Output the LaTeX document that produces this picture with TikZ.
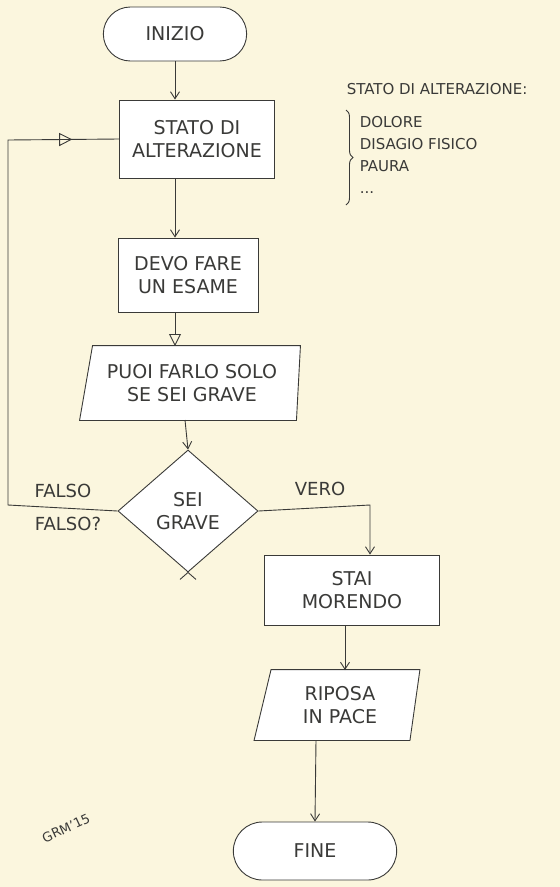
\documentclass[tikz,border=0pt]{standalone}
\usepackage{fontspec}
\setmainfont{DejaVu Sans}
\usetikzlibrary{shapes.geometric,shapes.misc,arrows.meta,decorations.pathreplacing,decorations.markings,calc}
\definecolor{paper}{HTML}{FBF6DE}
\definecolor{pencil}{HTML}{3A3A38}
\begin{document}
\begin{tikzpicture}[x=1pt,y=-1pt,
  line width=0.9pt, draw=pencil, text=pencil,
  every node/.style={font=\fontsize{19}{23}\selectfont, align=center, text=pencil},
  term/.style={draw, fill=white, rounded rectangle, minimum width=150pt, minimum height=54pt},
  proc/.style={draw, fill=white, rectangle, inner sep=2pt},
  iobox/.style={rectangle, inner sep=2pt},
  cond/.style={draw, fill=white, diamond, minimum width=140pt, minimum height=122pt, inner sep=0pt},
  flow/.style={-{Straight Barb[length=7pt,width=9pt]}},
  lbl/.style={font=\fontsize{18}{20}\selectfont},
  note/.style={font=\fontsize{15}{22}\selectfont, align=left, anchor=west}
]
\fill[paper] (0,0) rectangle (560,887);
\useasboundingbox (0,0) rectangle (560,887);

\node[term] (start) at (175,34) {INIZIO};
\node[proc, minimum width=155pt, minimum height=78pt] (stato) at (197,139) {STATO DI\\ALTERAZIONE};
\node[proc, minimum width=140pt, minimum height=74pt] (esame) at (188,275) {DEVO FARE\\UN ESAME};

% parallelogram: PUOI FARLO SOLO
\node[iobox, minimum width=220pt, minimum height=74pt] (puoi) at (190,383) {};
\filldraw[fill=white] ($(puoi.north west)+(13,0)$) -- (puoi.north east) -- ($(puoi.south east)+(-4,0)$) -- (puoi.south west) -- cycle;
\node (puoitxt) at (192,383) {PUOI FARLO SOLO\\SE SEI GRAVE};

\node[cond] (grave) at (188,511) {SEI\\GRAVE};
\node[proc, minimum width=175pt, minimum height=70pt] (morendo) at (352,590) {STAI\\MORENDO};

% parallelogram: RIPOSA IN PACE
\node[iobox, minimum width=165pt, minimum height=70pt] (riposa) at (337,705) {};
\filldraw[fill=white] ($(riposa.north west)+(17,0)$) -- (riposa.north east) -- ($(riposa.south east)+(-10,0)$) -- (riposa.south west) -- cycle;
\node (riposatxt) at (340,705) {RIPOSA\\IN PACE};

\node[term, minimum width=170pt, minimum height=58pt] (fine) at (315,851) {FINE};

% small cross at bottom of diamond
\draw (grave.south) -- ++(-8,7);
\draw (grave.south) -- ++(8,7);

\coordinate (fbA) at (8,505);
\coordinate (fbB) at (8,140);
\coordinate (vr) at (370,505);

\draw[flow] (start.south) -- (start.south |- stato.north);
\draw[flow] (start.south |- stato.south) -- (start.south |- esame.north);
\draw[-{Triangle[open,length=12pt,width=12pt]}] (175,312) -- (175,346);
\draw[flow] (185,420) -- (grave.north);
\draw[flow] (grave.east) -- (vr) -- (vr |- morendo.north);
\draw[flow] (345,625) -- (345,670);
\draw[flow] (316,740) -- (fine.north);

\draw[postaction={decorate}, decoration={markings, mark=at position 0.92 with {\arrow{Triangle[open,length=13pt,width=13pt]}}}]
  (grave.west) -- (fbA) -- (fbB) -- (stato.west);

\node[lbl] (falso) at (63,491) {FALSO};
\node[lbl] (falso2) at (68,524) {FALSO?};
\node[lbl] (vero) at (320,489) {VERO};

% side note
\node[note, font=\fontsize{15}{18}\selectfont] (nt) at (343,89) {STATO DI ALTERAZIONE:};
\node[note] (items) at (356,155) {DOLORE\\DISAGIO FISICO\\PAURA\\...};
\draw[decorate, decoration={brace, amplitude=7pt}] (346,110) -- (346,205);

% signature
\node[rotate=25, font=\fontsize{13}{15}\selectfont] (sig) at (66,828) {GRM’15};
\end{tikzpicture}
\end{document}
